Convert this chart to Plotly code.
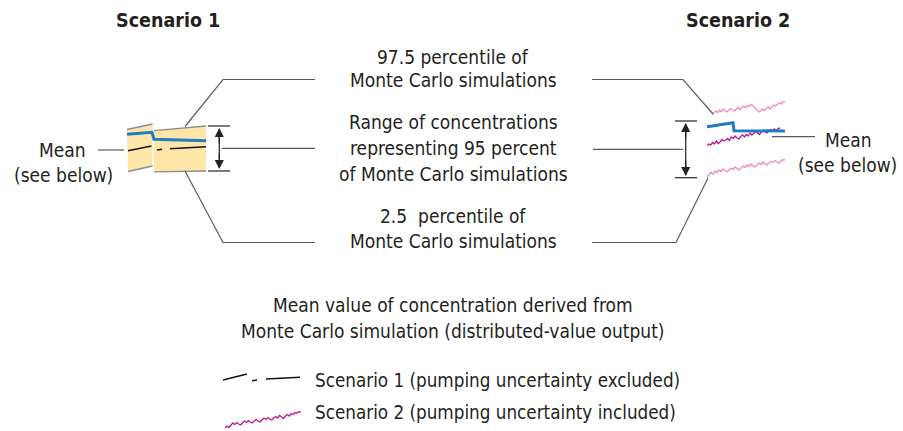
import plotly.graph_objects as go

# ---------------- data (diagram coordinates, pixel space) ----------------
# Scenario 1 band (two offset pieces)
band1_left_x = [127, 152.5, 152.5, 128]
band1_left_y = [129.5, 124, 166, 171.5]
band1_right_x = [154, 206, 206, 154]
band1_right_y = [130.7, 126, 171, 171.8]

s1_mean_blue_x = [127, 152, 154, 206]
s1_mean_blue_y = [134.3, 132.3, 139.3, 140.7]

s1_black_seg1_x = [128, 151.5]
s1_black_seg1_y = [150.7, 146]
s1_black_seg2_x = [157, 162]
s1_black_seg2_y = [150, 149.3]
s1_black_seg3_x = [170, 206]
s1_black_seg3_y = [148.7, 146.7]

# Scenario 2 series (noisy Monte Carlo output)
s2_upper_y = [114.5, 113, 111, 112.5, 110, 111.5, 109, 111, 112, 110, 108.5, 110, 111, 109,
              107.5, 109.5, 108, 106, 107.5, 105.5, 106.5, 104.5, 106, 108, 110.5, 112, 111,
              109, 110.5, 108.5, 107, 109, 107, 105, 106, 104, 102.5, 104, 102, 101.5]
s2_mid_y = [145.5, 144, 145, 142.5, 144, 141, 143.5, 142, 139.5, 141, 140, 138.5, 140.5, 137,
            138.5, 136, 138, 139, 136.5, 135, 137, 134.5, 136, 133, 135, 133.5, 131.5, 133,
            134.5, 132, 130.5, 132, 133, 131, 129.5, 131, 129, 130.5, 128.5, 128]
s2_low_y = [177, 175, 172.5, 174, 171, 172.5, 170, 171.5, 169, 170.5, 172, 170, 168, 169.5,
            167, 168.5, 170, 168, 166, 167.5, 165, 166.5, 164, 166, 167, 165, 163, 164.5,
            162, 163.5, 165, 163, 161.5, 162.5, 160.5, 162, 163, 161, 159.5, 160]
s2_blue_x = [707, 733, 734, 785]
s2_blue_y = [126.7, 122.7, 130.7, 131]

legend_s2_y = [428, 426, 427.5, 425, 423, 424.5, 422.5, 424, 425, 423, 421, 422.5, 420.5, 422,
               423, 421, 419.5, 421, 422, 420, 418, 419.5, 417.5, 419, 420, 418, 416.5, 418,
               415.5, 417, 418.5, 416, 414.5, 416, 413.5, 414.5, 412.5, 413, 411.5, 412.5]

center_labels = ["97.5 percentile of", "Monte Carlo simulations",
                 "Range of concentrations", "representing 95 percent",
                 "of Monte Carlo simulations",
                 "2.5  percentile of", "Monte Carlo simulations",
                 "Mean value of concentration derived from",
                 "Monte Carlo simulation (distributed-value output)"]
center_label_y = [57, 80, 122, 148, 174, 216, 241, 305, 331]


def xs(x0, x1, n):
    return [x0 + (x1 - x0) * i / (n - 1) for i in range(n)]


FONT = "DejaVu Sans Condensed, Liberation Sans Narrow, Liberation Sans, Arial, sans-serif"
GRAY = "#5a5a5a"
EDGE = "#8c8c8c"
PINK = "#f08ac0"
MAGENTA = "#c0188c"
BLUE = "#1c7cc6"
BAND = "#fde6a8"

fig = go.Figure()


def line(x, y, color=GRAY, width=1.2, dash=None):
    fig.add_trace(go.Scatter(x=x, y=y, mode="lines", hoverinfo="skip",
                             line=dict(color=color, width=width, dash=dash)))


# band fills
for bx, by in [(band1_left_x, band1_left_y), (band1_right_x, band1_right_y)]:
    fig.add_trace(go.Scatter(x=bx + [bx[0]], y=by + [by[0]], mode="lines",
                             fill="toself", fillcolor=BAND, hoverinfo="skip",
                             line=dict(width=0, color=BAND)))
    line(bx[:2], by[:2], EDGE, 1.3)
    line(bx[2:], by[2:], EDGE, 1.3)

line(s1_mean_blue_x, s1_mean_blue_y, BLUE, 3)
line(s1_black_seg1_x, s1_black_seg1_y, "#111", 1.5)
line(s1_black_seg2_x, s1_black_seg2_y, "#111", 1.5)
line(s1_black_seg3_x, s1_black_seg3_y, "#111", 1.5)

# leader lines scenario 1
line([185, 223, 315], [126.5, 79.5, 79.5])
line([185, 223, 315], [171, 242.5, 242.5])
line([222, 315], [148.3, 148.3])
line([98, 124], [150, 150])

# double arrow scenario 1
line([208, 230], [126, 126], "#222", 1.2)
line([208, 230], [171, 171], "#222", 1.2)
line([219.3, 219.3], [129, 168], "#333", 1.3)

# scenario 2 lines
line(xs(712, 785, len(s2_upper_y)), s2_upper_y, PINK, 1.3)
line(xs(707, 780, len(s2_mid_y)), s2_mid_y, MAGENTA, 1.3)
line(xs(707, 785, len(s2_low_y)), s2_low_y, PINK, 1.3)
line(s2_blue_x, s2_blue_y, BLUE, 3)

# leader lines scenario 2
line([592, 683, 713], [79.5, 79.5, 114])
line([592, 676, 708], [242.5, 242.5, 178])
line([593, 683], [149.3, 149.3])
line([772, 815], [136.7, 136.7])

# double arrow scenario 2
line([675, 697], [121, 121], "#222", 1.2)
line([675, 697], [177.7, 177.7], "#222", 1.2)
line([685.7, 685.7], [124, 175], "#333", 1.3)

# legend lines
line([223, 247], [380, 374], "#111", 1.5)
line([252, 257], [380.7, 380], "#111", 1.5)
line([266, 300], [379, 377.3], "#111", 1.5)
line(xs(225, 301, len(legend_s2_y)), legend_s2_y, MAGENTA, 1.3)

annotations = []


def text(x, y, s, size=19, bold=False, xanchor="center"):
    annotations.append(dict(x=x, y=y, text=("<b>%s</b>" % s) if bold else s,
                            showarrow=False, xanchor=xanchor, yanchor="middle",
                            font=dict(family=FONT, size=size, color="#231f20")))


# arrowheads
for (x, y, ay) in [(219.3, 128, 145), (219.3, 169, 152), (685.7, 123, 140), (685.7, 176, 159)]:
    annotations.append(dict(x=x, y=y, ax=x, ay=ay, xref="x", yref="y", axref="x", ayref="y",
                            showarrow=True, arrowhead=2, arrowsize=1.4, arrowwidth=1.3,
                            arrowcolor="#222", text=""))

text(168, 20, "Scenario 1", size=19.5, bold=True)
text(738, 20, "Scenario 2", size=19.5, bold=True)
for s, y in zip(center_labels, center_label_y):
    text(453, y, s)
text(62, 150, "Mean")
text(63, 175, "(see below)")
text(848, 140, "Mean")
text(847, 165, "(see below)")
text(313, 380, "Scenario 1 (pumping uncertainty excluded)", size=18.7, xanchor="left")
text(313, 412, "Scenario 2 (pumping uncertainty included)", size=18.7, xanchor="left")

fig.update_layout(
    width=903, height=431, autosize=False,
    margin=dict(l=0, r=0, t=0, b=0),
    paper_bgcolor="white", plot_bgcolor="white",
    showlegend=False,
    xaxis=dict(range=[0, 903], visible=False, fixedrange=True),
    yaxis=dict(range=[431, 0], visible=False, fixedrange=True),
    annotations=annotations,
)
fig.write_html("out.html", config={"displayModeBar": False},
               post_script="document.body.style.margin='0';document.body.style.overflow='hidden';")
